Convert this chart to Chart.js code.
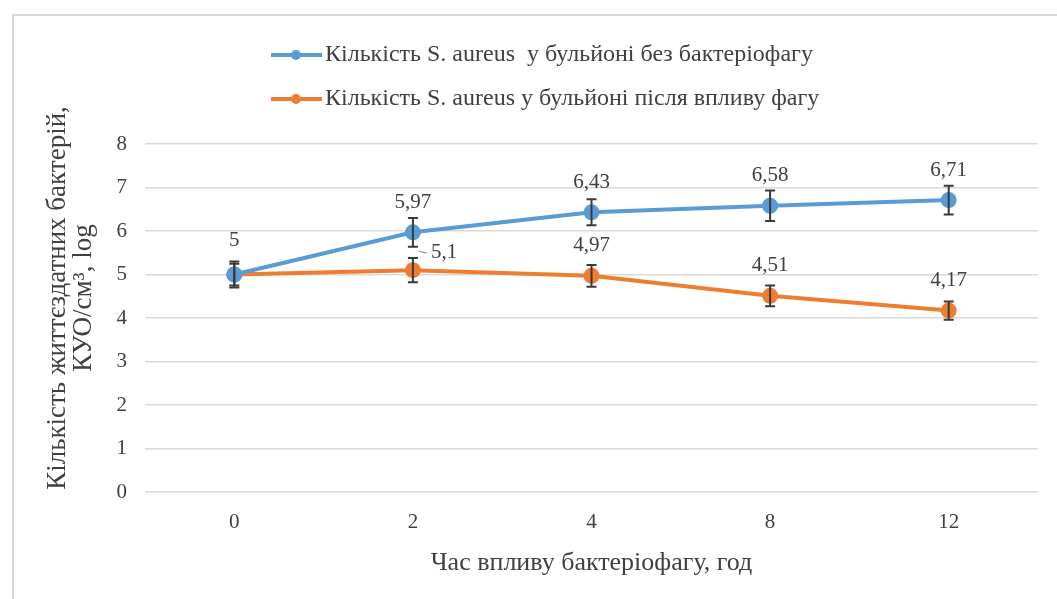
<!DOCTYPE html>
<html>
<head>
<meta charset="utf-8">
<script src="https://cdn.jsdelivr.net/npm/chart.js@4.4.0/dist/chart.umd.min.js"></script>
<style>
  html, body { margin: 0; padding: 0; background: #fff; }
  #wrap { width: 1057px; height: 599px; }
</style>
</head>
<body>
<div id="wrap"><canvas id="myChart" width="1057" height="599"></canvas></div>
<script>
// дані з графіка
const hours = ['0', '2', '4', '8', '12'];
const withoutPhage = [5, 5.97, 6.43, 6.58, 6.71];
const afterPhage = [5, 5.1, 4.97, 4.51, 4.17];
const withoutPhageErr = [0.3, 0.33, 0.3, 0.35, 0.33];
const afterPhageErr = [0.25, 0.28, 0.25, 0.24, 0.21];
const seriesNames = [
  'Кількість S. aureus  у бульйоні без бактеріофагу',
  'Кількість S. aureus у бульйоні після впливу фагу'
];
const yTitle = ['Кількість життєздатних бактерій,', 'КУО/см³, log'];

const BLUE = '#5b9bd5';
const ORANGE = '#ed7d31';
const TEXT = '#404040';
const SERIF = '"Liberation Serif", "DejaVu Serif", serif';

function fmt(v) {
  return String(v).replace('.', ',');
}

// рамка навколо діаграми
const framePlugin = {
  id: 'frame',
  beforeDraw(chart) {
    const ctx = chart.ctx;
    ctx.save();
    ctx.fillStyle = '#fff';
    ctx.fillRect(0, 0, chart.width, chart.height);
    ctx.strokeStyle = '#d9d9d9';
    ctx.lineWidth = 2;
    ctx.strokeRect(13, 15, chart.width + 20, chart.height + 20);
    ctx.restore();
  }
};

// планки похибок
const errorBarPlugin = {
  id: 'errorBars',
  afterDatasetsDraw(chart) {
    const ctx = chart.ctx;
    const y = chart.scales.y;
    ctx.save();
    ctx.strokeStyle = '#3a3a3a';
    ctx.lineWidth = 2;
    chart.data.datasets.forEach((ds, di) => {
      const meta = chart.getDatasetMeta(di);
      meta.data.forEach((pt, i) => {
        const e = ds.errors[i];
        const top = y.getPixelForValue(ds.data[i] + e);
        const bot = y.getPixelForValue(ds.data[i] - e);
        ctx.beginPath();
        ctx.moveTo(pt.x, top); ctx.lineTo(pt.x, bot);
        ctx.moveTo(pt.x - 5, top); ctx.lineTo(pt.x + 5, top);
        ctx.moveTo(pt.x - 5, bot); ctx.lineTo(pt.x + 5, bot);
        ctx.stroke();
      });
    });
    ctx.restore();
  }
};

// підписи значень
const valueLabelPlugin = {
  id: 'valueLabels',
  afterDatasetsDraw(chart) {
    const ctx = chart.ctx;
    ctx.save();
    ctx.font = '21px ' + SERIF;
    ctx.fillStyle = TEXT;
    ctx.textBaseline = 'middle';
    chart.data.datasets.forEach((ds, di) => {
      const meta = chart.getDatasetMeta(di);
      meta.data.forEach((pt, i) => {
        if (di === 1 && i === 0) return; // збігається з першою серією
        if (di === 1 && i === 1) {
          // підпис праворуч із виноскою
          ctx.textAlign = 'left';
          ctx.strokeStyle = '#7f7f7f';
          ctx.lineWidth = 1;
          ctx.beginPath();
          ctx.moveTo(pt.x + 6, pt.y - 19);
          ctx.lineTo(pt.x + 14, pt.y - 17);
          ctx.stroke();
          ctx.fillText(fmt(ds.data[i]), pt.x + 18, pt.y - 18);
          return;
        }
        ctx.textAlign = 'center';
        ctx.fillText(fmt(ds.data[i]), pt.x, pt.y - (i === 0 ? 34 : 30));
      });
    });
    ctx.restore();
  }
};

// легенда у стилі Excel + підпис осі Y
const legendPlugin = {
  id: 'excelLegend',
  afterDraw(chart) {
    const ctx = chart.ctx;
    ctx.save();
    ctx.font = '24px ' + SERIF;
    ctx.textBaseline = 'middle';
    ctx.textAlign = 'left';
    const rows = [55, 99];
    chart.data.datasets.forEach((ds, di) => {
      const yy = rows[di];
      ctx.strokeStyle = ds.borderColor;
      ctx.lineWidth = 4;
      ctx.beginPath();
      ctx.moveTo(271, yy); ctx.lineTo(322, yy);
      ctx.stroke();
      ctx.fillStyle = ds.borderColor;
      ctx.beginPath();
      ctx.arc(296, yy, 5, 0, Math.PI * 2);
      ctx.fill();
      ctx.fillStyle = TEXT;
      ctx.fillText(ds.label, 325, yy);
    });

    // назва осі Y трохи вище за центр області, як в оригіналі
    ctx.font = '27px ' + SERIF;
    ctx.textAlign = 'center';
    ctx.translate(58, 298);
    ctx.rotate(-Math.PI / 2);
    yTitle.forEach((line, k) => ctx.fillText(line, 0, k * 26));
    ctx.restore();
  }
};

const ctx = document.getElementById('myChart').getContext('2d');
const myChart = new Chart(ctx, {
  type: 'line',
  data: {
    labels: hours,
    datasets: [
      {
        label: seriesNames[0],
        data: withoutPhage,
        errors: withoutPhageErr,
        borderColor: BLUE,
        backgroundColor: BLUE,
        borderWidth: 4,
        pointRadius: 6,
        pointHoverRadius: 6,
        tension: 0
      },
      {
        label: seriesNames[1],
        data: afterPhage,
        errors: afterPhageErr,
        borderColor: ORANGE,
        backgroundColor: ORANGE,
        borderWidth: 4,
        pointRadius: 6,
        pointHoverRadius: 6,
        tension: 0
      }
    ]
  },
  options: {
    responsive: false,
    animation: false,
    devicePixelRatio: 1,
    layout: { padding: { top: 144, right: 19, left: 0, bottom: 0 } },
    plugins: {
      legend: { display: false },
      tooltip: { enabled: false }
    },
    scales: {
      x: {
        offset: true,
        grid: { display: false, drawTicks: false },
        border: { display: false },
        ticks: { color: TEXT, font: { family: SERIF, size: 21 }, padding: 18 },
        title: {
          display: true,
          text: 'Час впливу бактеріофагу, год',
          color: TEXT,
          font: { family: SERIF, size: 26 },
          padding: { top: 0, bottom: 20 }
        },
        afterFit(scale) { scale.height = 107; }
      },
      y: {
        min: 0,
        max: 8,
        ticks: { stepSize: 1, color: TEXT, font: { family: SERIF, size: 21 }, padding: 18 },
        grid: { color: '#d9d9d9', lineWidth: 1.5, drawTicks: false },
        border: { display: false },
        afterFit(scale) { scale.width = 145; }
      }
    }
  },
  plugins: [framePlugin, errorBarPlugin, valueLabelPlugin, legendPlugin]
});
</script>
</body>
</html>
